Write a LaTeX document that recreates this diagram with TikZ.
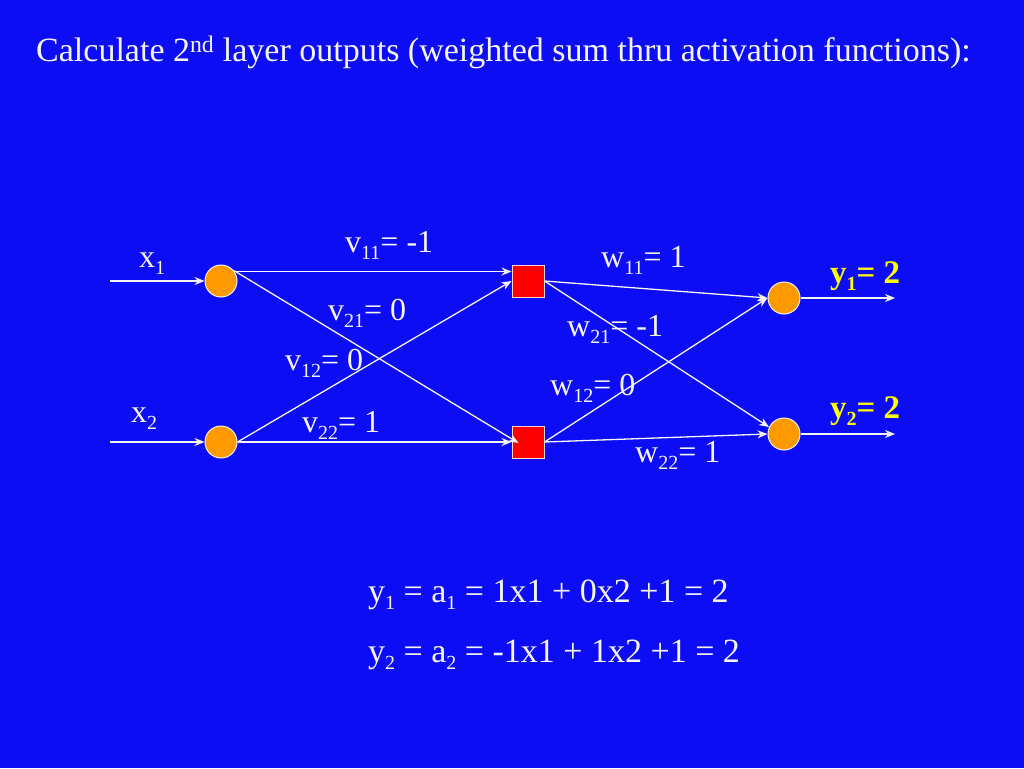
\documentclass[tikz,border=0pt]{standalone}
\usepackage{fontspec}
\setmainfont{Liberation Serif}
\usetikzlibrary{arrows.meta,calc}
\definecolor{bg}{RGB}{12,12,245}
\definecolor{txt}{RGB}{245,245,245}
\definecolor{orng}{RGB}{255,153,0}
\definecolor{yel}{RGB}{255,255,0}
\newcommand\sbx[1]{\raisebox{-0.22em}{\fontsize{20}{24}\selectfont #1}}
\begin{document}
\begin{tikzpicture}[x=1pt,y=-1pt,
  neuron/.style={circle,fill=orng,draw=txt,line width=1pt,minimum size=32pt,inner sep=0pt},
  hidden/.style={rectangle,fill=red,draw=pink!70!white,line width=1pt,minimum size=32pt,inner sep=0pt},
  conn/.style={draw=txt,line width=1.3pt,-{Stealth[length=10pt,width=8pt]}},
  lbl/.style={anchor=base west,text=txt,inner sep=0pt,font=\fontsize{32}{36}\selectfont},
  ylbl/.style={anchor=base west,text=yel,inner sep=0pt,font=\fontsize{33}{36}\selectfont\bfseries},
  eq/.style={anchor=base west,text=txt,inner sep=0pt,font=\fontsize{34}{36}\selectfont}]
\fill[bg] (0,0) rectangle (1024,768);
\useasboundingbox (0,0) rectangle (1024,768);
\node[anchor=base west,text=txt,inner sep=0pt,font=\fontsize{34}{40}\selectfont] (title) at (36,62) {Calculate 2\textsuperscript{nd} layer outputs (weighted sum thru activation functions):};
\node[neuron] (i1) at (221,281) {};
\node[neuron] (i2) at (221,442) {};
\node[hidden] (h1) at (528,281) {};
\node[hidden] (h2) at (528,442) {};
\node[neuron] (o1) at (784,298) {};
\node[neuron] (o2) at (784,434) {};
\coordinate (in1) at (110,281);
\coordinate (in2) at (110,442);
\coordinate (out1) at (895,298);
\coordinate (out2) at (895,434);
\draw[conn] (in1) -- (i1.west);
\draw[conn] (in2) -- (i2.west);
\draw[conn] (o1.east) -- (out1);
\draw[conn] (o2.east) -- (out2);
\draw[conn] (i1.35) -- (i1.35 -| h1.west);
\draw[conn] (i1.40) -- ($(h2.west)+(7,1)$);
\draw[conn] (i2.east) -- (h1.west);
\draw[conn,line width=2pt] (i2.east) -- (h2.west);
\draw[conn] (h1.east) -- (o1.west);
\draw[conn] (h1.east) -- (o2.155);
\draw[conn] (h2.east) -- (o1.west);
\draw[conn] (h2.east) -- (o2.west);
\node[lbl] (lx1) at (139,267) {x\sbx{1}};
\node[lbl] (lx2) at (131,422) {x\sbx{2}};
\node[lbl] (lv11) at (345,252) {v\sbx{11}= -1};
\node[lbl] (lv21) at (328,320) {v\sbx{21}= 0};
\node[lbl] (lv12) at (285,370) {v\sbx{12}= 0};
\node[lbl] (lv22) at (302,432) {v\sbx{22}= 1};
\node[lbl] (lw11) at (601,267) {w\sbx{11}= 1};
\node[lbl] (lw21) at (567,336) {w\sbx{21}= -1};
\node[lbl] (lw12) at (550,395) {w\sbx{12}= 0};
\node[lbl] (lw22) at (635,462) {w\sbx{22}= 1};
\node[ylbl] (ly1) at (830,283) {y\sbx{\bfseries 1}= 2};
\node[ylbl] (ly2) at (830,418) {y\sbx{\bfseries 2}= 2};
\node[eq] (eq1) at (368,602) {y\sbx{1} = a\sbx{1} = 1x1 + 0x2 +1 = 2};
\node[eq] (eq2) at (368,662) {y\sbx{2} = a\sbx{2} = -1x1 + 1x2 +1 = 2};
\end{tikzpicture}
\end{document}
